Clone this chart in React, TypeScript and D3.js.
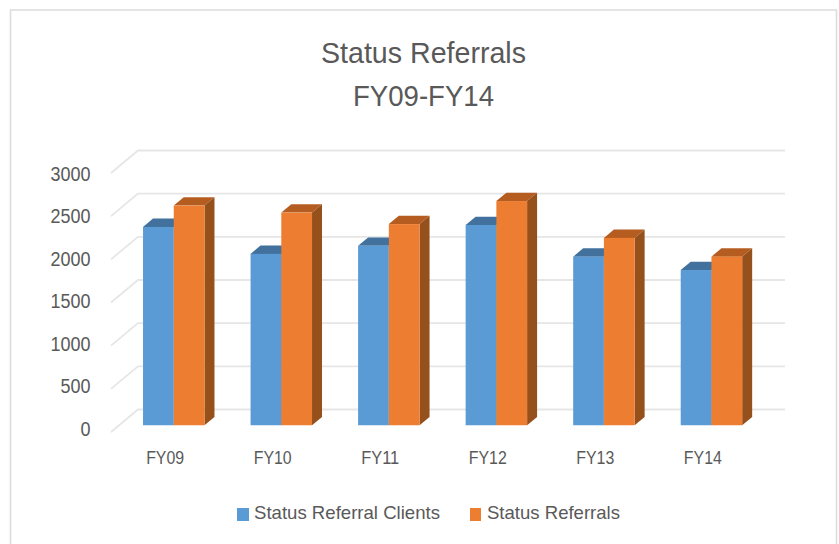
import React from "react";
import * as d3 from "d3";

const categories = ["FY09", "FY10", "FY11", "FY12", "FY13", "FY14"];
const clients = [2297, 1985, 2078, 2320, 1953, 1798];
const referrals = [2544, 2463, 2330, 2597, 2170, 1953];
const yTicks = [0, 500, 1000, 1500, 2000, 2500, 3000];
const seriesNames = ["Status Referral Clients", "Status Referrals"];

const width = 839;
const height = 544;
const textColor = "#595959";
const font = "'Liberation Sans', sans-serif";

// front wall of the fake 3D box, depth gets added on top of it
const floorY = 432;
const depthX = 27;
const depthY = -22.5;
const barZ0 = 0.3;
const barZ1 = 0.67;

const x = d3.scaleBand().domain(categories).range([111, 758]).paddingInner(0.4285).paddingOuter(0.2225);
const y = d3.scaleLinear().domain([0, 3000]).range([floorY, floorY - 259]);
// the axis labels are spaced a little tighter than the gridlines in the original
const labelY = d3.scaleLinear().domain([0, 3000]).range([435.5, 180.5]);

const pt = (px: number, py: number, z: number): [number, number] => [px + depthX * z, py + depthY * z];
const path = d3.line();

const colors = [
  { front: "#5b9bd5", top: "#41719c", side: "#3f6f9a" },
  { front: "#ed7d31", top: "#b55d20", side: "#96501c" },
];

const Bar = ({ left, w, value, c }: { left: number; w: number; value: number; c: (typeof colors)[0] }) => {
  const top = y(value);
  const base = y(0);
  const right = left + w;
  const topFace = path([pt(left, top, barZ0), pt(right, top, barZ0), pt(right, top, barZ1), pt(left, top, barZ1)]);
  const sideFace = path([pt(right, top, barZ0), pt(right, base, barZ0), pt(right, base, barZ1), pt(right, top, barZ1)]);
  const [fx, fy] = pt(left, top, barZ0);
  const [, fb] = pt(left, base, barZ0);
  return (
    <g>
      <path d={topFace + "Z"} fill={c.top} />
      <path d={sideFace + "Z"} fill={c.side} />
      <rect x={fx} y={fy} width={w} height={fb - fy} fill={c.front} />
    </g>
  );
};

export default function App() {
  const barW = x.bandwidth() / 2;
  return (
    <svg
      width={width}
      height={height}
      style={{ position: "absolute", left: 0, top: 0, fontFamily: font }}
    >
      <rect width={width} height={height} fill="#fff" />
      <path d="M10.5,544V10H836.5V544" fill="none" stroke="#dcdcdc" strokeWidth={1.6} />

      <text x={423.5} y={63} textAnchor="middle" fontSize={30} fill={textColor} textLength={205} lengthAdjust="spacingAndGlyphs">
        Status Referrals
      </text>
      <text x={423.5} y={106} textAnchor="middle" fontSize={30} fill={textColor} textLength={141} lengthAdjust="spacingAndGlyphs">
        FY09-FY14
      </text>

      {/* gridlines */}
      {yTicks.map((t) => {
        const a = pt(111, y(t), 0);
        const b = pt(111, y(t), 1);
        const c = pt(758, y(t), 1);
        return (
          <path key={t} d={path([a, b, c]) as string} fill="none" stroke="#e6e6e6" strokeWidth={1.8} />
        );
      })}

      {/* y axis labels */}
      {yTicks.map((t) => (
        <text
          key={t}
          x={90.5}
          y={labelY(t)}
          textAnchor="end"
          fontSize={20}
          fill={textColor}
          textLength={String(t).length * 10}
          lengthAdjust="spacingAndGlyphs"
        >
          {t}
        </text>
      ))}

      {/* bars, blue first so the orange side sits on top */}
      {categories.map((cat, i) => (
        <g key={cat}>
          <Bar left={x(cat) as number} w={barW} value={clients[i]} c={colors[0]} />
          <Bar left={(x(cat) as number) + barW} w={barW} value={referrals[i]} c={colors[1]} />
        </g>
      ))}

      {/* category labels */}
      {categories.map((cat) => (
        <text
          key={cat}
          x={(x(cat) as number) + barW - 0.5}
          y={464}
          textAnchor="middle"
          fontSize={19}
          fill={textColor}
          textLength={38}
          lengthAdjust="spacingAndGlyphs"
        >
          {cat}
        </text>
      ))}

      {/* legend */}
      <rect x={237} y={508} width={12} height={13} fill={colors[0].front} />
      <text x={254} y={519} fontSize={19} fill={textColor} textLength={186} lengthAdjust="spacingAndGlyphs">
        {seriesNames[0]}
      </text>
      <rect x={470} y={508} width={11} height={13} fill={colors[1].front} />
      <text x={487} y={519} fontSize={19} fill={textColor} textLength={133} lengthAdjust="spacingAndGlyphs">
        {seriesNames[1]}
      </text>
    </svg>
  );
}
